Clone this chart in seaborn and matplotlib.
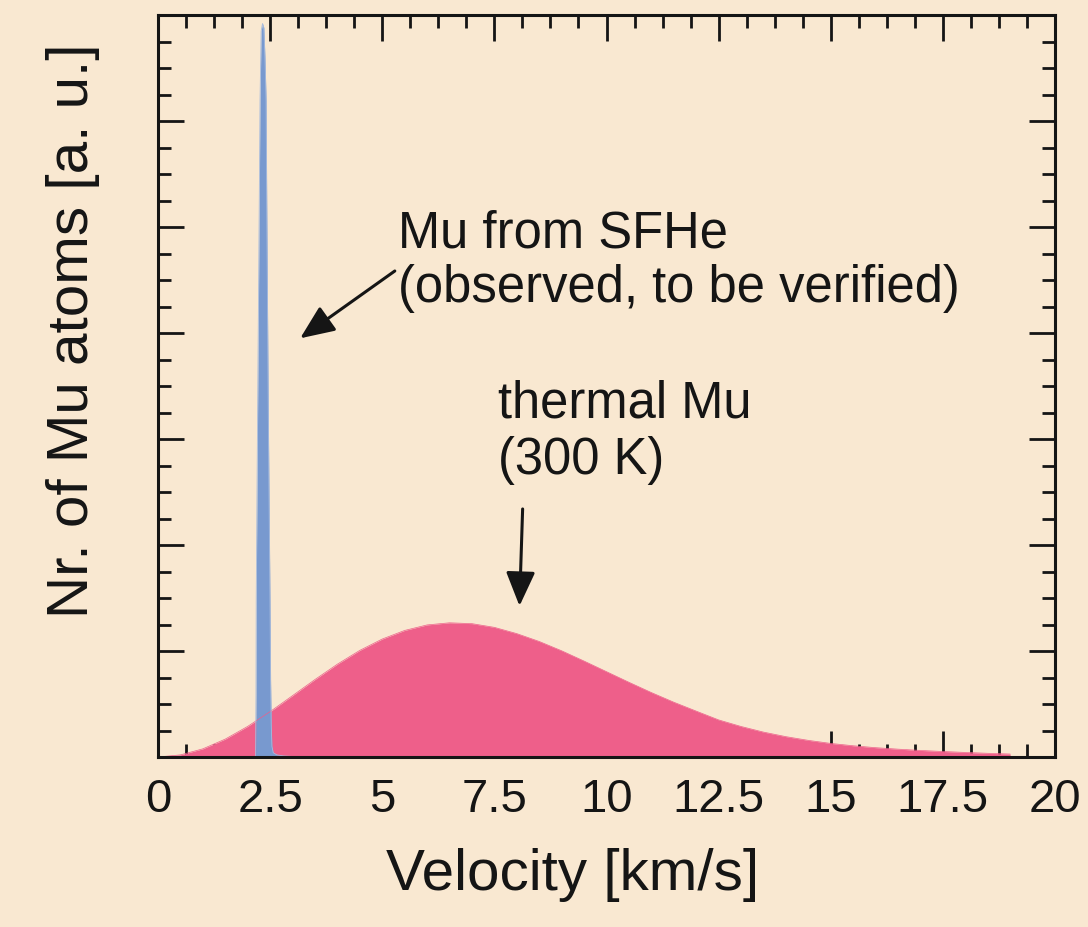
import matplotlib
matplotlib.use("Agg")
import matplotlib.pyplot as plt
from matplotlib.ticker import MultipleLocator
import seaborn as sns
import pandas as pd

# thermal Mu (300 K), every 0.5 km/s
thermal_v = [0.0, 0.5, 1.0, 1.5, 2.0, 2.5, 3.0, 3.5, 4.0, 4.5,
             5.0, 5.5, 6.0, 6.5, 7.0, 7.5, 8.0, 8.5, 9.0, 9.5,
             10.0, 10.5, 11.0, 11.5, 12.0, 12.5, 13.0, 13.5, 14.0, 14.5,
             15.0, 15.5, 16.0, 16.5, 17.0, 17.5, 18.0, 18.5, 19.0]
thermal_n = [0.0, 0.02, 0.077, 0.169, 0.289, 0.428, 0.579, 0.731, 0.876, 1.006,
             1.113, 1.194, 1.246, 1.266, 1.258, 1.223, 1.164, 1.090, 1.002, 0.905,
             0.805, 0.705, 0.608, 0.517, 0.433, 0.350, 0.288, 0.235, 0.192, 0.157,
             0.128, 0.106, 0.088, 0.074, 0.062, 0.052, 0.043, 0.035, 0.028]

# Mu from SFHe, narrow peak
sfhe_v = [2.175, 2.185, 2.19, 2.22, 2.258, 2.275, 2.30, 2.33, 2.36, 2.385, 2.41,
          2.424, 2.46, 2.497, 2.51, 2.525, 2.54, 2.57, 2.65, 2.8, 3.0, 3.05]
sfhe_n = [0.0, 0.6, 1.5, 3.2, 5.25, 6.2, 6.85, 6.92, 6.88, 6.6, 6.2,
          5.25, 3.2, 1.48, 0.73, 0.3, 0.1, 0.04, 0.02, 0.01, 0.005, 0.0]

x_ticks = [0, 2.5, 5, 7.5, 10, 12.5, 15, 17.5, 20]
x_labels = ["0", "2.5", "5", "7.5", "10", "12.5", "15", "17.5", "20"]

bg = "#F9E8D1"
pink = "#EE5F8A"
blue = "#7899CF"
ink = "#151515"

sns.set_theme(style="ticks")
plt.rcParams["font.family"] = ["Liberation Sans", "DejaVu Sans"]

fig = plt.figure(figsize=(10.88, 9.27), dpi=100, facecolor=bg)
ax = fig.add_axes([158 / 1088, 170 / 927, 897 / 1088, 742 / 927])
ax.set_facecolor(bg)

thermal = pd.DataFrame({"v": thermal_v, "n": thermal_n})
sfhe = pd.DataFrame({"v": sfhe_v, "n": sfhe_n})

sns.lineplot(data=thermal, x="v", y="n", color=pink, lw=0.5, ax=ax)
ax.fill_between(thermal["v"], thermal["n"], color=pink, lw=0)
sns.lineplot(data=sfhe, x="v", y="n", color="#A7BBDD", lw=0.6, ax=ax)
ax.fill_between(sfhe["v"], sfhe["n"], color=blue, lw=0)

ax.set_xlim(0, 20)
ax.set_ylim(0, 7)
ax.set_xticks(x_ticks)
ax.set_xticklabels(x_labels)
ax.xaxis.set_minor_locator(MultipleLocator(0.625))
ax.yaxis.set_major_locator(MultipleLocator(1))
ax.yaxis.set_minor_locator(MultipleLocator(0.25))
ax.set_yticklabels([])

for s in ax.spines.values():
    s.set_visible(True)
    s.set_linewidth(2.2)
    s.set_color(ink)
    s.set_zorder(5)

ax.tick_params(which="both", direction="in", top=True, right=True,
               color=ink, width=2.0, labelsize=34, labelcolor=ink, pad=15)
ax.tick_params(which="major", length=18.5)
ax.tick_params(which="minor", length=9.5)

ax.set_xlabel("Velocity [km/s]", fontsize=42, color=ink)
ax.set_ylabel("Nr. of Mu atoms [a. u.]", fontsize=42, color=ink)
ax.xaxis.set_label_coords(0.462, -0.122)
ax.yaxis.set_label_coords(-0.065, 0.574)

# va="baseline" lines up the last line's baseline here
ax.text(5.35, 4.29, "Mu from SFHe\n(observed, to be verified)", fontsize=36.5,
        color=ink, ha="left", va="baseline", linespacing=1.15)
ax.text(7.58, 2.67, "thermal Mu\n(300 K)", fontsize=36.5,
        color=ink, ha="left", va="baseline", linespacing=1.2)

arrow = dict(arrowstyle="-|>,head_length=0.7,head_width=0.3", mutation_scale=30,
             lw=2.2, color=ink, shrinkA=0, shrinkB=0)
ax.annotate("", xy=(3.17, 3.95), xytext=(5.28, 4.585), arrowprops=arrow)
ax.annotate("", xy=(8.06, 1.425), xytext=(8.13, 2.34), arrowprops=arrow)

fig.savefig("out.png", dpi=100, facecolor=bg)
